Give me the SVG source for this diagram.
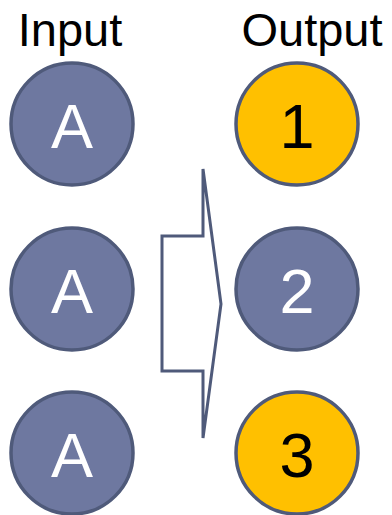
<svg xmlns="http://www.w3.org/2000/svg" width="392" height="515" viewBox="0 0 392 515">
<style>
.lbl{font-family:"Liberation Sans",Arial,sans-serif;font-size:47px;fill:#000;text-anchor:middle}
.n{stroke:#4f5a7a;stroke-width:3.5}
.b{fill:#6e78a0}
.y{fill:#ffc000}
.t{font-family:"Liberation Sans",Arial,sans-serif;font-size:63px;text-anchor:middle}
.w{fill:#fff}
.k{fill:#000}
</style>
<g id="headers">
<text class="lbl" x="70" y="46">Input</text>
<text class="lbl" x="312" y="46">Output</text>
</g>
<g id="inA1"><circle class="n b" cx="72" cy="124" r="61"/><text class="t w" x="72" y="148">A</text></g>
<g id="inA2"><circle class="n b" cx="72" cy="289" r="61"/><text class="t w" x="72" y="313">A</text></g>
<g id="inA3"><circle class="n b" cx="72" cy="453" r="61"/><text class="t w" x="72" y="477">A</text></g>
<g id="out1"><circle class="n y" cx="297" cy="124" r="61"/><text class="t k" x="297" y="148">1</text></g>
<g id="out2"><circle class="n b" cx="297" cy="289" r="61"/><text class="t w" x="297" y="313">2</text></g>
<g id="out3"><circle class="n y" cx="297" cy="453" r="61"/><text class="t k" x="297" y="477">3</text></g>
<g id="connectors">
<path d="M203,169 L221,304 L203,438 L203,371 L162,371 L162,236 L203,236 Z" fill="#fff" stroke="#4f5a7a" stroke-width="3"/>
</g>
</svg>
